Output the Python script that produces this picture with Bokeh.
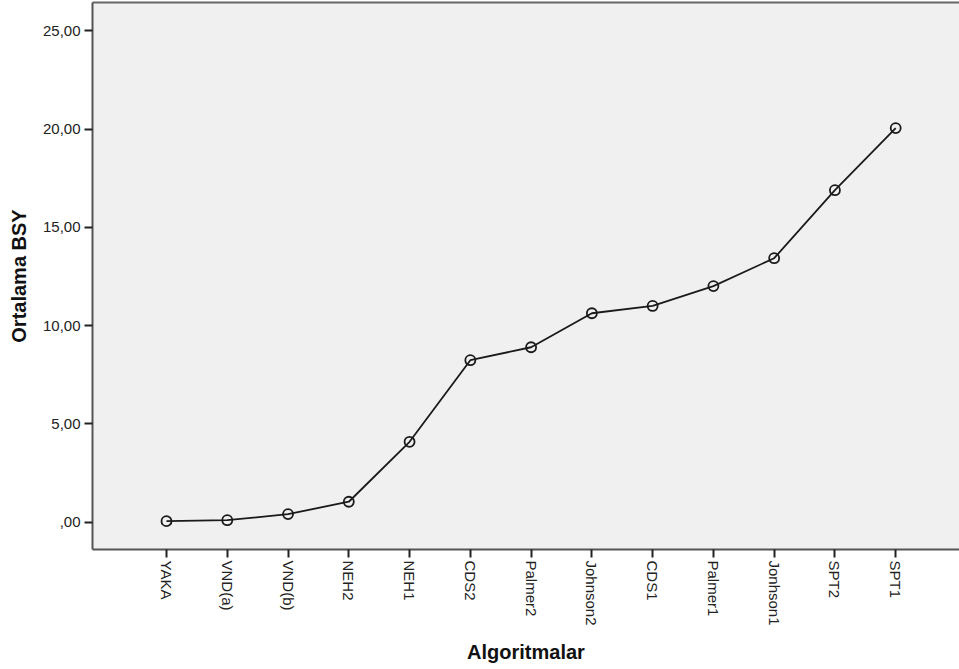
import math
from bokeh.plotting import figure
from bokeh.models import Range1d, FixedTicker, LinearAxis, ColumnDataSource
from bokeh.embed import file_html
from bokeh.resources import INLINE

categories = ["YAKA", "VND(a)", "VND(b)", "NEH2", "NEH1", "CDS2", "Palmer2",
              "Johnson2", "CDS1", "Palmer1", "Jonhson1", "SPT2", "SPT1"]
values = [0.05, 0.10, 0.41, 1.04, 4.09, 8.24, 8.90, 10.63, 11.00, 12.01, 13.43, 16.89, 20.05]
y_ticks = [0, 5, 10, 15, 20, 25]
y_tick_labels = [",00", "5,00", "10,00", "15,00", "20,00", "25,00"]

x_pos = list(range(len(categories)))
src = ColumnDataSource(dict(x=x_pos, y=values, name=categories))

p = figure(width=959, height=669, output_backend="svg", toolbar_location=None,
           x_range=Range1d(-1.218, 13.05), y_range=Range1d(-1.39, 26.44),
           x_axis_label="Algoritmalar", y_axis_label="Ortalama BSY")
p.min_border_left = 92
p.min_border_right = 0
p.min_border_top = 2
p.min_border_bottom = 120
p.background_fill_color = "#f0f0f0"
p.border_fill_color = "white"
p.outline_line_color = None
p.grid.visible = False

p.line("x", "y", source=src, line_color="#1a1a1a", line_width=1.8)
p.scatter("x", "y", source=src, marker="circle", size=10, fill_color=None,
          line_color="#1a1a1a", line_width=1.8)

font = "Liberation Sans"
xa = p.xaxis[0]
xa.ticker = FixedTicker(ticks=x_pos)
xa.major_label_overrides = {i: c for i, c in zip(x_pos, categories)}
xa.major_label_orientation = -math.pi / 2
ya = p.yaxis[0]
ya.ticker = FixedTicker(ticks=y_ticks)
ya.major_label_overrides = {t: l for t, l in zip(y_ticks, y_tick_labels)}

for ax in (xa, ya):
    ax.axis_line_color = "#555555"
    ax.axis_line_width = 2
    ax.major_tick_line_color = "#222222"
    ax.major_tick_line_width = 2
    ax.major_tick_out = 8
    ax.major_tick_in = 0
    ax.minor_tick_line_color = None
    ax.major_label_standoff = 3
    ax.major_label_text_font = font
    ax.major_label_text_font_size = "15px"
    ax.major_label_text_color = "#222222"
    ax.axis_label_text_font = font
    ax.axis_label_text_font_style = "bold"
    ax.axis_label_text_font_size = "20px"
    ax.axis_label_text_color = "#111111"
ya.major_label_standoff = 4
xa.axis_label_standoff = 12
ya.axis_label_standoff = 10

top = LinearAxis(ticker=FixedTicker(ticks=[]))
top.axis_line_color = "#666666"
top.axis_line_width = 2
top.major_tick_line_color = None
top.minor_tick_line_color = None
top.major_label_text_font_size = "0px"
top.major_label_standoff = 0
top.major_tick_out = 0
p.add_layout(top, "above")

open("out.html", "w").write(file_html(p, INLINE))
